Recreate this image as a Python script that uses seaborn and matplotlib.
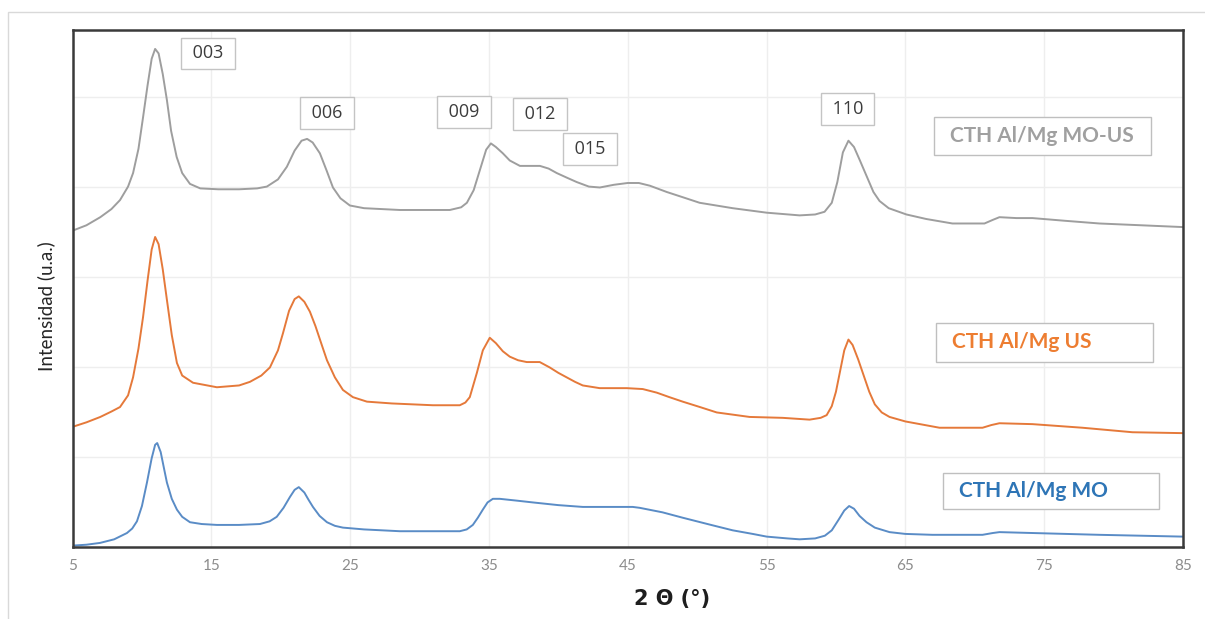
import matplotlib
matplotlib.use("Agg")
import matplotlib.pyplot as plt
from matplotlib.patches import Rectangle
import pandas as pd
import seaborn as sns

# --- Difractogramas (2θ en grados, intensidad en u.a. con desplazamiento vertical) ---
two_theta_mo_us = [5.0, 6.0, 7.0, 7.8, 8.42, 9.0, 9.36, 9.75, 10.08, 10.4, 10.7, 10.95,
                   11.2, 11.5, 11.8, 12.1, 12.5, 12.9, 13.46, 14.2, 15.5, 17.0, 18.3,
                   19.0, 19.8, 20.44, 21.0, 21.5, 21.9, 22.3, 22.82, 23.3, 23.76, 24.3,
                   24.98, 26.0, 28.58, 32.18, 33.0, 33.41, 33.9, 34.34, 34.8, 35.14,
                   35.5, 36.0, 36.5, 37.23, 38.0, 38.67, 39.3, 39.89, 40.6, 41.33,
                   42.2, 42.99, 44.0, 45.0, 45.8, 46.59, 47.81, 49.0, 50.18, 52.56,
                   55.01, 57.38, 58.5, 59.18, 59.7, 60.1, 60.5, 60.9, 61.3, 61.7, 62.2,
                   62.7, 63.14, 63.8, 65.08, 66.5, 68.39, 70.7, 71.3, 71.78, 73.0,
                   74.16, 76.5, 78.98, 82.0, 85.0]
int_mo_us = [3.51, 3.57, 3.66, 3.75, 3.85, 4.00, 4.15, 4.42, 4.77, 5.12, 5.42, 5.53,
             5.48, 5.25, 4.96, 4.62, 4.33, 4.15, 4.03, 3.98, 3.97, 3.97, 3.98,
             4.00, 4.08, 4.22, 4.40, 4.51, 4.53, 4.49, 4.37, 4.18, 3.99, 3.87,
             3.79, 3.76, 3.74, 3.74, 3.77, 3.82, 3.96, 4.18, 4.41, 4.48,
             4.44, 4.37, 4.29, 4.23, 4.23, 4.23, 4.20, 4.15, 4.10, 4.05,
             4.00, 3.99, 4.02, 4.04, 4.04, 4.01, 3.94, 3.88, 3.82, 3.76,
             3.71, 3.68, 3.69, 3.72, 3.82, 4.05, 4.38, 4.51, 4.44, 4.30, 4.12,
             3.94, 3.84, 3.76, 3.69, 3.64, 3.59, 3.59, 3.63, 3.66, 3.65,
             3.65, 3.62, 3.59, 3.57, 3.55]

two_theta_us = [5.0, 6.0, 7.0, 7.8, 8.42, 9.0, 9.36, 9.75, 10.08, 10.4, 10.7, 10.95,
                11.2, 11.5, 11.8, 12.15, 12.52, 12.9, 13.68, 15.4, 17.0, 17.78, 18.6,
                19.22, 19.8, 20.16, 20.6, 21.0, 21.3, 21.7, 22.1, 22.5, 23.0, 23.33,
                23.9, 24.48, 25.2, 26.21, 28.0, 30.96, 32.9, 33.3, 33.62, 34.13,
                34.56, 35.06, 35.5, 36.0, 36.5, 37.1, 37.72, 38.66, 39.38, 40.0,
                40.6, 41.2, 41.76, 42.98, 44.93, 46.08, 47.09, 48.0, 48.96, 50.2,
                51.41, 53.78, 56.16, 58.1, 58.9, 59.33, 59.7, 60.0, 60.3, 60.6, 60.9,
                61.2, 61.6, 62.0, 62.4, 62.8, 63.3, 63.86, 65.0, 67.46, 70.56, 71.2,
                71.78, 74.16, 77.76, 81.36, 85.0]
int_us = [1.33, 1.38, 1.44, 1.50, 1.55, 1.68, 1.88, 2.20, 2.55, 2.95, 3.30, 3.44,
          3.36, 3.08, 2.74, 2.35, 2.04, 1.90, 1.82, 1.77, 1.79, 1.83, 1.90,
          1.99, 2.18, 2.37, 2.62, 2.75, 2.78, 2.72, 2.61, 2.45, 2.22, 2.07,
          1.88, 1.74, 1.66, 1.61, 1.59, 1.57, 1.57, 1.60, 1.66, 1.93,
          2.18, 2.32, 2.26, 2.17, 2.11, 2.07, 2.05, 2.05, 1.99, 1.93,
          1.88, 1.83, 1.79, 1.76, 1.76, 1.75, 1.71, 1.66, 1.61, 1.55,
          1.49, 1.44, 1.43, 1.41, 1.43, 1.46, 1.56, 1.72, 1.95, 2.18, 2.30,
          2.24, 2.08, 1.90, 1.72, 1.58, 1.49, 1.44, 1.39, 1.32, 1.32, 1.35,
          1.37, 1.36, 1.32, 1.27, 1.26]

two_theta_mo = [5.0, 6.0, 6.98, 8.0, 8.92, 9.3, 9.64, 10.0, 10.36, 10.7, 10.95, 11.1,
                11.35, 11.6, 11.8, 12.15, 12.52, 12.9, 13.46, 14.3, 15.4, 17.0, 18.5,
                19.2, 19.71, 20.2, 20.66, 21.0, 21.3, 21.7, 22.0, 22.32, 22.8, 23.33,
                23.9, 24.48, 26.0, 28.58, 32.9, 33.4, 33.84, 34.2, 34.56, 34.9,
                35.28, 35.78, 37.0, 38.16, 40.0, 41.76, 43.5, 45.36, 45.86, 47.5,
                48.96, 51.0, 52.56, 54.0, 55.01, 56.5, 57.38, 58.5, 59.2, 59.7, 60.2,
                60.6, 60.95, 61.3, 61.7, 62.2, 62.8, 63.86, 65.0, 66.95, 70.56, 71.3,
                71.78, 74.16, 78.98, 85.0]
int_mo = [0.01, 0.02, 0.04, 0.08, 0.15, 0.20, 0.28, 0.45, 0.71, 0.98, 1.13, 1.15,
          1.05, 0.86, 0.71, 0.53, 0.41, 0.33, 0.27, 0.25, 0.24, 0.24, 0.25,
          0.28, 0.33, 0.43, 0.55, 0.63, 0.66, 0.60, 0.52, 0.44, 0.34, 0.27,
          0.23, 0.21, 0.19, 0.17, 0.17, 0.19, 0.24, 0.32, 0.41, 0.49,
          0.53, 0.53, 0.51, 0.49, 0.46, 0.44, 0.44, 0.44, 0.43, 0.38,
          0.32, 0.24, 0.18, 0.14, 0.11, 0.09, 0.08, 0.09, 0.12, 0.18, 0.30,
          0.40, 0.45, 0.42, 0.34, 0.27, 0.21, 0.16, 0.14, 0.13, 0.13, 0.15,
          0.16, 0.15, 0.13, 0.11]

series_names = ["CTH Al/Mg MO-US", "CTH Al/Mg US", "CTH Al/Mg MO"]
series_colors = ["#9E9E9E", "#E5793A", "#5A8CC6"]
label_colors = ["#A0A0A0", "#ED7D31", "#2E75B6"]

# Índices de Miller y su posición (2θ, intensidad)
hkl_labels = ["003", "006", "009", "012", "015", "110"]
hkl_x = [14.77, 23.33, 33.19, 38.66, 42.26, 60.84]
hkl_y = [5.48, 4.82, 4.83, 4.81, 4.42, 4.86]

x_ticks = [5, 15, 25, 35, 45, 55, 65, 75, 85]

frames = []
for name, tt, inten in zip(series_names,
                           [two_theta_mo_us, two_theta_us, two_theta_mo],
                           [int_mo_us, int_us, int_mo]):
    frames.append(pd.DataFrame({"2theta": tt, "I": inten, "serie": name}))
df = pd.concat(frames, ignore_index=True)

sns.set_theme(style="white")
plt.rcParams["font.family"] = ["Lato", "DejaVu Sans"]

fig = plt.figure(figsize=(12.05, 6.19), dpi=100)
ax = fig.add_axes([0.0602, 0.1171, 0.9215, 0.8344])

sns.lineplot(data=df, x="2theta", y="I", hue="serie", hue_order=series_names,
             palette=dict(zip(series_names, series_colors)), sort=False,
             estimator=None, linewidth=1.4, legend=False, ax=ax)

ax.set_xlim(5, 85)
ax.set_ylim(0, 5.74)
ax.set_xticks(x_ticks)
ax.set_xticklabels([str(t) for t in x_ticks])
ax.set_yticks([1, 2, 3, 4, 5])
ax.set_yticklabels([])
ax.grid(True, color="#EEEEEE", linewidth=1.0)
ax.tick_params(axis="x", length=0, pad=9, labelsize=11, labelcolor="#8C8C8C")
ax.tick_params(axis="y", length=0)
for s in ax.spines.values():
    s.set_visible(True)
    s.set_color("#3A3A3A")
    s.set_linewidth(1.8)

ax.set_xlabel("2 Θ (°)", fontsize=15, fontweight="bold", color="#1E1E1E",
              family=["DejaVu Sans"])
ax.xaxis.set_label_coords(0.54, -0.082)
ax.set_ylabel("Intensidad (u.a.)", fontsize=13.5, color="#262626")
ax.yaxis.set_label_coords(-0.016, 0.465)

# Etiquetas de reflexiones
for lab, xx, yy in zip(hkl_labels, hkl_x, hkl_y):
    ax.text(xx, yy, " " + lab + " ", ha="center", va="center", fontsize=13,
            color="#3C3C3C", family=["Open Sans", "DejaVu Sans"],
            bbox=dict(boxstyle="square,pad=0.38", fc="white", ec="#C4C4C4", lw=1.0))

# Recuadros de identificación de cada muestra
box_specs = [(0.7758, 0.758, 0.1954, 0.0736, 0.7902, 0.7948),
             (0.7776, 0.3572, 0.1954, 0.0755, 0.7920, 0.3959),
             (0.7839, 0.0726, 0.1945, 0.0697, 0.7983, 0.1075)]
for name, col, (bx, by, bw, bh, tx, ty) in zip(series_names, label_colors, box_specs):
    ax.add_patch(Rectangle((bx, by), bw, bh, transform=ax.transAxes,
                           facecolor="white", edgecolor="#BFBFBF", lw=1.0, zorder=4))
    ax.text(tx, ty, name, transform=ax.transAxes, ha="left", va="center",
            fontsize=15, fontweight="bold", color=col, zorder=5)

# Marco exterior del gráfico
fig.patches.append(Rectangle((8 / 1205, -0.05), 1.2, 1 - 12 / 619 + 0.05,
                             transform=fig.transFigure, fill=False,
                             edgecolor="#D9D9D9", lw=1.0))

fig.savefig("out.png", dpi=100)
